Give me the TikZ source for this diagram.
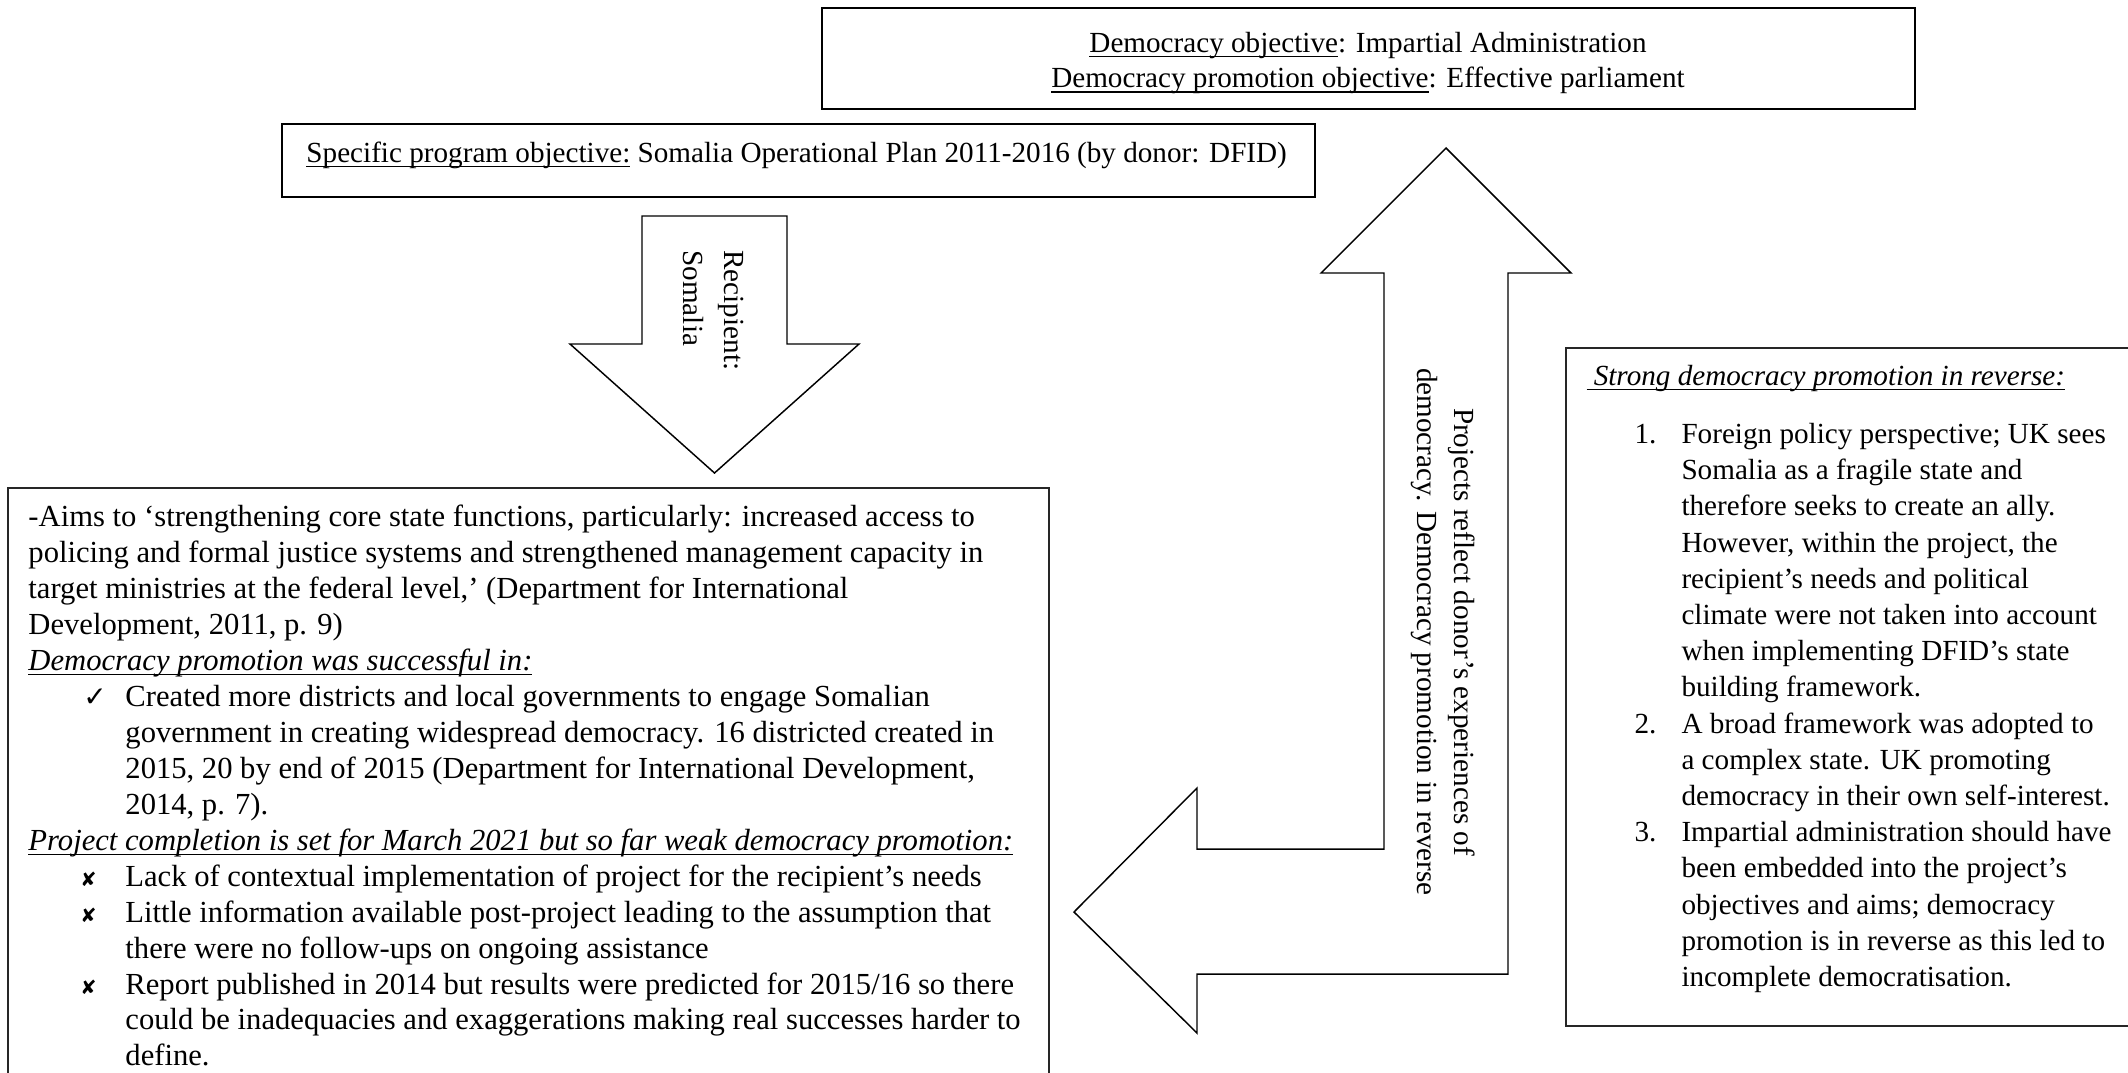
\documentclass[tikz,border=0pt]{standalone}
\usepackage{fontspec}
\setmainfont{Liberation Serif}
\newfontfamily\dejavu{DejaVu Sans}
\usepackage{tikz}
\usepackage{tkz-euclide}
\newsavebox{\undlbox}
\newcommand{\undl}[1]{\sbox\undlbox{#1}\rlap{\rule[-2pt]{\wd\undlbox}{0.5pt}}\usebox\undlbox}
\newcommand{\yesmark}{\hspace*{22.6pt}\makebox[17.3pt][l]{\dejavu\fontsize{11.5}{11.5}\selectfont ✓}}
\newcommand{\nomark}{\hspace*{21.4pt}\makebox[18.5pt][l]{\dejavu\fontsize{8}{8}\selectfont ✘}}
\newcommand{\hangleft}{\hspace*{39.9pt}}
\newcommand{\numbered}[1]{\hspace*{19.75pt}\makebox[19.35pt][l]{#1}}
\newcommand{\hangright}{\hspace*{39.1pt}}

\begin{document}
\begin{tikzpicture}[x=0.41152pt, y=-0.41152pt,
                thickbox/.style={draw, line width=0.7pt},
                thinbox/.style={draw=black!85, line width=0.45pt},
                arrowline/.style={black, line width=0.6pt, line join=miter},
                txt/.style={inner sep=0pt, align=left, font=\fontsize{12}{14.5}\selectfont}]
                \useasboundingbox (0,0) rectangle (2128,1072);
                \clip (0,0) rectangle (2128,1072);
                \tkzDefPoints{822/8/T_1, 1915/109/T_2, 282/124/S_1, 1315/197/S_2,
                    8/488/L_1, 1049/1085/L_2, 1566/348/R_1, 2140/1026/R_2}
                \tkzDefPoints{642/216/D_1, 787/216/D_2, 787/344/D_3, 859/344/D_4,
                    714.5/473/D_5, 570/344/D_6, 642/344/D_7}
                \tkzDefPoints{1074/912/B_1, 1197/788/B_2, 1197/849/B_3, 1384/849/B_4,
                    1384/273/B_5, 1321/273/B_6, 1446/148/B_7, 1571/273/B_8,
                    1508/273/B_9, 1508/974/B_10, 1197/974/B_11, 1197/1033/B_12}
                \draw[thickbox] (T_1) rectangle (T_2);
                \draw[thickbox] (S_1) rectangle (S_2);
                \draw[thinbox] (L_1) rectangle (L_2);
                \draw[thinbox] (R_1) rectangle (R_2);
                \tkzDrawPolygon[arrowline](D_1,D_2,D_3,D_4,D_5,D_6,D_7)
                \tkzDrawPolygon[arrowline](B_1,B_2,B_3,B_4,B_5,B_6,B_7,B_8,B_9,B_10,B_11,B_12)
                \node[txt, align=center, anchor=north] (objectives) at (1368,27.3)
                    {\strut\undl{Democracy objective}: Impartial Administration\\
                    \undl{Democracy promotion objective}: Effective parliament};
                \node[txt, anchor=base west] (program) at (306,162)
                    {\undl{Specific program objective:} Somalia Operational Plan 2011-2016 (by donor: DFID)};
                \node[txt, font=\fontsize{12}{17}\selectfont, rotate=-90, anchor=north west] (recipient) at (753.9,250)
                    {\strut Recipient:\\Somalia};
                \node[txt, font=\fontsize{12}{15.2}\selectfont, align=center, rotate=-90, anchor=north] (reflect) at (1480.9,632)
                    {\strut Projects reflect donor’s experiences of\\democracy. Democracy promotion in reverse};
                \node[txt, font=\fontsize{12.6}{14.8}\selectfont, anchor=north west] (aims) at (28,500.8)
                    {\strut -Aims to ‘strengthening core state functions, particularly: increased access to\\
                    policing and formal justice systems and strengthened management capacity in\\
                    target ministries at the federal level,’ (Department for International\\
                    Development, 2011, p. 9)\\
                    \undl{\textit{Democracy promotion was successful in:}}\\
                    \yesmark Created more districts and local governments to engage Somalian\\
                    \hangleft government in creating widespread democracy. 16 districted created in\\
                    \hangleft 2015, 20 by end of 2015 (Department for International Development,\\
                    \hangleft 2014, p. 7).\\
                    \undl{\textit{Project completion is set for March 2021 but so far weak democracy promotion:}}\\
                    \nomark Lack of contextual implementation of project for the recipient’s needs\\
                    \nomark Little information available post-project leading to the assumption that\\
                    \hangleft there were no follow-ups on ongoing assistance\\
                    \nomark Report published in 2014 but results were predicted for 2015/16 so there\\
                    \hangleft could be inadequacies and exaggerations making real successes harder to\\
                    \hangleft define.};
                \node[txt, anchor=base west] (reverse) at (1586,385)
                    {\undl{\textit{\ Strong democracy promotion in reverse:}}};
                \node[txt, font=\fontsize{12}{14.9}\selectfont, anchor=north west] (reasons) at (1586,417.6)
                    {\strut\numbered{1.}Foreign policy perspective; UK sees\\
                    \hangright Somalia as a fragile state and\\
                    \hangright therefore seeks to create an ally.\\
                    \hangright However, within the project, the\\
                    \hangright recipient’s needs and political\\
                    \hangright climate were not taken into account\\
                    \hangright when implementing DFID’s state\\
                    \hangright building framework.\\
                    \numbered{2.}A broad framework was adopted to\\
                    \hangright a complex state. UK promoting\\
                    \hangright democracy in their own self-interest.\\
                    \numbered{3.}Impartial administration should have\\
                    \hangright been embedded into the project’s\\
                    \hangright objectives and aims; democracy\\
                    \hangright promotion is in reverse as this led to\\
                    \hangright incomplete democratisation.};
            \end{tikzpicture}
\end{document}
